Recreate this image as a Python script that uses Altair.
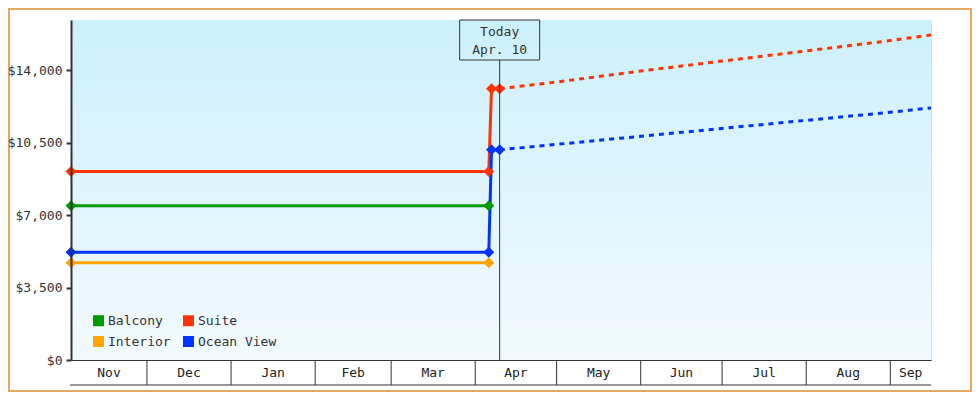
import altair as alt
import pandas as pd

# ---------------- data ----------------
series = ["Balcony", "Suite", "Interior", "Ocean View"]
colors = ["#009900", "#ff3300", "#ffa500", "#0033ff"]

hist_dates = ["2022-11-03", "2023-04-06"]
hist_values = [7450, 9100, 4700, 5200]          # per series, flat history

jump_series = ["Suite", "Ocean View"]
jump_dates = ["2023-04-07", "2023-04-10"]
jump_values = [13100, 10150]

proj_dates = ["2023-04-10", "2023-05-01", "2023-06-01", "2023-07-01",
              "2023-08-01", "2023-09-01", "2023-09-16"]
suite_proj = [13100, 13420, 13950, 14430, 14920, 15420, 15690]
ocean_proj = [10150, 10410, 10800, 11180, 11570, 11960, 12170]

month_labels = ["Nov", "Dec", "Jan", "Feb", "Mar", "Apr", "May", "Jun", "Jul", "Aug", "Sep"]
month_starts = ["2022-11-01", "2022-12-01", "2023-01-01", "2023-02-01", "2023-03-01",
                "2023-04-01", "2023-05-01", "2023-06-01", "2023-07-01", "2023-08-01",
                "2023-09-01", "2023-10-01"]
x_start, x_end = "2022-11-03", "2023-09-16"
today = "2023-04-10"
today_lines = ["Today", "Apr. 10"]

y_ticks = [0, 3500, 7000, 10500, 14000]
y_max = 16414

# ---------------- tables ----------------
solid_rows = []
for s, v in zip(series, hist_values):
    for d in hist_dates:
        solid_rows.append({"series": s, "date": d, "value": v, "order": len(solid_rows)})
for s, v in zip(jump_series, jump_values):
    for d in jump_dates:
        solid_rows.append({"series": s, "date": d, "value": v, "order": len(solid_rows)})
solid = pd.DataFrame(solid_rows)

proj_rows = []
for s, vals in zip(jump_series, [suite_proj, ocean_proj]):
    for d, v in zip(proj_dates, vals):
        proj_rows.append({"series": s, "date": d, "value": v})
proj = pd.DataFrame(proj_rows)

ms = pd.to_datetime(month_starts)
lo, hi = pd.Timestamp(x_start), pd.Timestamp(x_end)
mrows = []
for i, lab in enumerate(month_labels):
    a = max(ms[i], lo)
    b = min(ms[i + 1], hi)
    mrows.append({"label": lab, "mid": (a + (b - a) / 2).strftime("%Y-%m-%dT%H:%M:%S")})
mdf = pd.DataFrame(mrows)
sep_df = pd.DataFrame({"date": [d for d in month_starts[1:-1]]})
today_df = pd.DataFrame({"date": [today]})
today_top = pd.DataFrame({"date": [today], "txt": [today_lines[0]]})
today_bot = pd.DataFrame({"date": [today], "txt": [today_lines[1]]})

W, H = 860, 340
FONT = "DejaVu Sans Mono"
INK = "#333333"

xscale = alt.Scale(type="utc",
                   domain=[alt.DateTime(year=2022, month=11, date=3, utc=True),
                           alt.DateTime(year=2023, month=9, date=16, utc=True)])
yscale = alt.Scale(domain=[0, y_max], nice=False)
cscale = alt.Scale(domain=series, range=colors)

legend = alt.Legend(title=None, orient="none", legendX=21, legendY=294,
                    columns=2, direction="horizontal",
                    symbolType="square", symbolSize=121,
                    symbolStrokeWidth=0, symbolOpacity=1,
                    labelFont=FONT, labelFontSize=13, labelColor=INK,
                    labelOffset=3, columnPadding=11, rowPadding=7,
                    padding=0)
C = alt.Color("series:N", scale=cscale, legend=legend)

X = alt.X("date:T", scale=xscale,
          axis=alt.Axis(title=None, labels=False, ticks=False, grid=False,
                        domainColor=INK, domainWidth=1, zindex=1))
Y = alt.Y("value:Q", scale=yscale,
          axis=alt.Axis(title=None, values=y_ticks, format="$,.0f", grid=False,
                        domainColor=INK, domainWidth=2, tickColor=INK, tickWidth=2,
                        tickSize=5, labelFont=FONT, labelFontSize=13, labelColor=INK,
                        labelPadding=4, zindex=1))

bg = alt.Chart(pd.DataFrame({"a": [0]})).mark_rect(
    color=alt.Gradient(gradient="linear", x1=0, x2=0, y1=0, y2=1,
                       stops=[alt.GradientStop(color="#ccf0fc", offset=0),
                              alt.GradientStop(color="#f2faff", offset=1)])
).encode(x=alt.value(0), x2=alt.value(W), y=alt.value(0), y2=alt.value(H))

base_solid = alt.Chart(solid)
points = base_solid.mark_point(shape="diamond", filled=True, size=110, opacity=1).encode(
    x=X, y=Y, color=C)

lines = base_solid.mark_line(strokeWidth=3).encode(
    x="date:T", y="value:Q", color=C, detail="series:N", order="order:Q")

dotted = alt.Chart(proj).mark_line(strokeWidth=3, strokeDash=[5, 5]).encode(
    x="date:T", y="value:Q", color=C)

points_top = base_solid.mark_point(shape="diamond", filled=True, size=110, opacity=1).encode(
    x="date:T", y="value:Q", color=C)

today_rule = alt.Chart(today_df).mark_rule(color=INK, strokeWidth=1).encode(
    x="date:T", y=alt.value(40), y2=alt.value(H))
today_box = alt.Chart(today_df).mark_point(
    shape="M-1,-0.5H1V0.5H-1Z", size=6400, filled=False, stroke=INK, strokeWidth=1,
    opacity=1).encode(x="date:T", y=alt.value(20))
today_t1 = alt.Chart(today_top).mark_text(font=FONT, fontSize=13, color=INK,
                                          baseline="middle", align="center").encode(
    x="date:T", y=alt.value(12), text="txt:N")
today_t2 = alt.Chart(today_bot).mark_text(font=FONT, fontSize=13, color=INK,
                                          baseline="middle", align="center").encode(
    x="date:T", y=alt.value(30), text="txt:N")

seps = alt.Chart(sep_df).mark_rule(color=INK, strokeWidth=1).encode(
    x="date:T", y=alt.value(H), y2=alt.value(H + 25))
bottom_line = alt.Chart(pd.DataFrame({"a": [0]})).mark_rule(color=INK, strokeWidth=1).encode(
    x=alt.value(-1), x2=alt.value(W), y=alt.value(H + 25))
mlabels = alt.Chart(mdf).mark_text(font=FONT, fontSize=13, color="#222222",
                                   baseline="middle", align="center").encode(
    x=alt.X("mid:T"), y=alt.value(H + 12.5), text="label:N")

border = alt.Chart(pd.DataFrame({"a": [0]})).mark_rect(
    fill=None, stroke="#e8a860", strokeWidth=2).encode(
    x=alt.value(-62), x2=alt.value(W + 40), y=alt.value(-11), y2=alt.value(H + 31))

chart = alt.layer(
    bg, points, lines, dotted, points_top, today_rule, today_box, today_t1, today_t2,
    seps, bottom_line, mlabels, border
).properties(
    width=W, height=H,
    autosize=alt.AutoSizeParams(type="none"),
    padding={"left": 63, "top": 12, "right": 41, "bottom": 32},
).configure_view(stroke=None).configure(background="white")

chart.save("out.html", embed_options={"renderer": "svg", "actions": False})
